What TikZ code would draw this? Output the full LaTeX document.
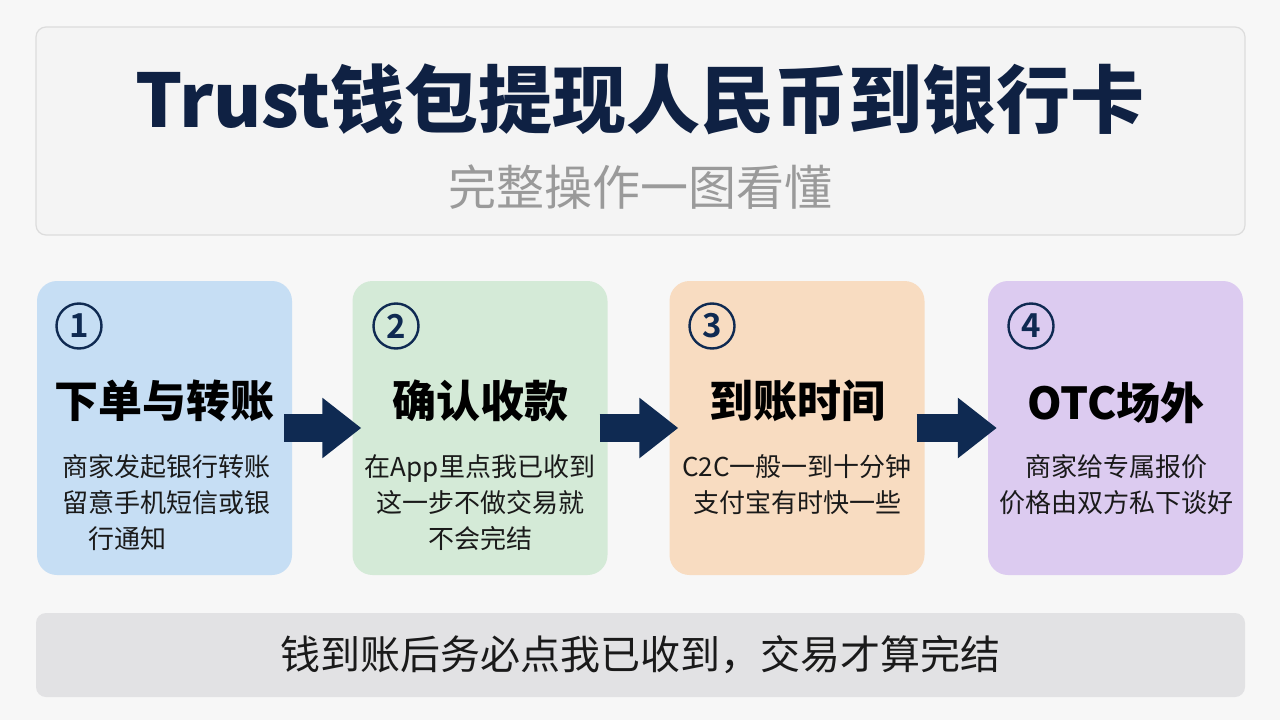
\documentclass[tikz,border=0pt]{standalone}
\usepackage{fontspec}
\setmainfont{Noto Sans CJK SC}[BoldFont={Noto Sans CJK SC Bold}]
\newfontfamily\heavy{Noto Sans CJK SC Black}
\usetikzlibrary{arrows.meta}

\definecolor{pagebg}{HTML}{F7F7F7}
\definecolor{panelbg}{HTML}{F4F4F4}
\definecolor{panelline}{HTML}{DCDCDC}
\definecolor{navy}{HTML}{0F2A52}
\definecolor{titleblue}{HTML}{0F2143}
\definecolor{subgray}{HTML}{9A9A9A}
\definecolor{stepblue}{HTML}{C6DEF4}
\definecolor{stepgreen}{HTML}{D4EAD7}
\definecolor{steppeach}{HTML}{F8DCC1}
\definecolor{steplilac}{HTML}{DCCBF0}
\definecolor{barbg}{HTML}{E2E2E4}
\definecolor{ink}{HTML}{1A1A1A}

\tikzset{
  panel/.style={draw=panelline, line width=1.2pt, fill=panelbg, rounded corners=10pt,
    minimum width=1209pt, minimum height=208pt},
  title/.style={text=titleblue, font=\fontsize{74}{80}\selectfont\heavy},
  subtitle/.style={text=subgray, font=\fontsize{48}{52}\selectfont},
  card/.style={rounded corners=20pt, minimum width=255pt, minimum height=294pt},
  num/.style={circle, draw=navy, line width=2.4pt, minimum size=45pt, inner sep=0pt,
    text=navy, font=\fontsize{33}{33}\selectfont\bfseries},
  head/.style={text=black, font=\fontsize{44}{48}\selectfont\heavy},
  body/.style={text=ink, align=center, font=\fontsize{26}{36}\selectfont},
  flow/.style={navy, line width=28pt, shorten <=-8pt, shorten >=-9pt,
    -{Triangle[length=39pt,width=58pt]}},
  bar/.style={fill=barbg, rounded corners=10pt, minimum width=1209pt, minimum height=84pt,
    text=ink, font=\fontsize{40}{44}\selectfont}
}

\begin{document}
\begin{tikzpicture}[x=1pt,y=-1pt]
  \fill[pagebg] (0,0) rectangle (1280,720);
  \useasboundingbox (0,0) rectangle (1280,720);
  % header
  \node[panel] (top) at (640.5,131) {};
  \node[title] (ttl) at (640,99) {Trust钱包提现人民币到银行卡};
  \node[subtitle] (sub) at (640,187) {完整操作一图看懂};
  % four steps
  \node[card, fill=stepblue] (c1) at (164.5,428) {};
  \node[card, fill=stepgreen] (c2) at (480,428) {};
  \node[card, fill=steppeach] (c3) at (797,428) {};
  \node[card, fill=steplilac] (c4) at (1115.5,428) {};
  \foreach \k/\x in {1/79,2/396,3/712,4/1031} \node[num] (n\k) at (\x,326) {\k};
  \node[head] (h1) at (164.5,401) {下单与转账};
  \node[head] (h2) at (480,401) {确认收款};
  \node[head] (h3) at (797,401) {到账时间};
  \node[head] (h4) at (1116,403) {OTC场外};
  \node[body, align=left] (b1) at (166,503) {商家发起银行转账\\留意手机短信或银\\\hspace*{1em}行通知};
  \node[body] (b2) at (480,503) {在App里点我已收到\\这一步不做交易就\\不会完结};
  \node[body] (b3) at (797,485) {C2C一般一到十分钟\\支付宝有时快一些};
  \node[body] (b4) at (1116,485) {商家给专属报价\\价格由双方私下谈好};
  % arrows between steps
  \foreach \a/\b in {c1/c2,c2/c3,c3/c4} \draw[flow] (\a) -- (\b);
  % bottom note
  \node[bar] (note) at (640.5,655) {钱到账后务必点我已收到，交易才算完结};
\end{tikzpicture}
\end{document}
